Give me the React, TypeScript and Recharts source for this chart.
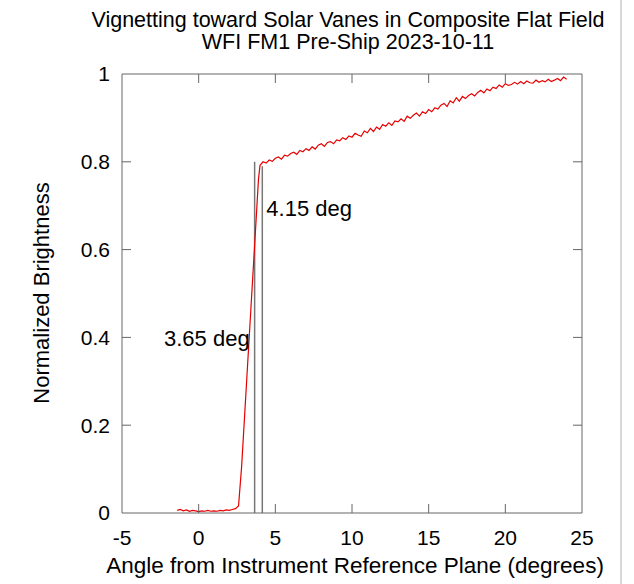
import React from 'react'
import { LineChart, Line, XAxis, YAxis, ReferenceDot } from 'recharts'

// flat region before the vanes
const flatAngles = [-1.4, -1.2, -1.0, -0.8, -0.6, -0.4, -0.2, 0, 0.2, 0.4, 0.6, 0.8, 1.0, 1.2, 1.4, 1.6, 1.8, 2.0, 2.2, 2.4, 2.6]
const flatValues = [0.006, 0.008, 0.005, 0.007, 0.004, 0.006, 0.005, 0.003, 0.005, 0.004, 0.006, 0.004, 0.005, 0.004, 0.006, 0.005, 0.007, 0.006, 0.008, 0.01, 0.016]

// steep edge
const rampAngles = [2.8, 3.0, 3.2, 3.4, 3.6, 3.8, 3.9]
const rampValues = [0.105, 0.224, 0.343, 0.462, 0.58, 0.7, 0.76]

// slow rise after the edge
const plateauAngles = [
  4.0, 4.2, 4.4, 4.6, 4.8, 5.0, 5.2, 5.4, 5.6, 5.8, 6.0, 6.2, 6.4, 6.6, 6.8, 7.0, 7.2, 7.4, 7.6, 7.8,
  8.0, 8.2, 8.4, 8.6, 8.8, 9.0, 9.2, 9.4, 9.6, 9.8, 10.0, 10.2, 10.4, 10.6, 10.8, 11.0, 11.2, 11.4, 11.6, 11.8,
  12.0, 12.2, 12.4, 12.6, 12.8, 13.0, 13.2, 13.4, 13.6, 13.8, 14.0, 14.2, 14.4, 14.6, 14.8, 15.0, 15.2, 15.4, 15.6, 15.8,
  16.0, 16.2, 16.4, 16.6, 16.8, 17.0, 17.2, 17.4, 17.6, 17.8, 18.0, 18.2, 18.4, 18.6, 18.8, 19.0, 19.2, 19.4, 19.6, 19.8,
  20.0, 20.2, 20.4, 20.6, 20.8, 21.0, 21.2, 21.4, 21.6, 21.8, 22.0, 22.2, 22.4, 22.6, 22.8, 23.0, 23.2, 23.4, 23.6, 23.8, 24.0,
]
const plateauValues = [
  0.792, 0.8, 0.797, 0.804, 0.801, 0.808, 0.811, 0.806, 0.815, 0.813, 0.819, 0.822, 0.817, 0.826, 0.823, 0.83, 0.826, 0.834, 0.829, 0.838,
  0.841, 0.835, 0.844, 0.846, 0.841, 0.85, 0.848, 0.855, 0.851, 0.859, 0.856, 0.865, 0.861, 0.858, 0.87, 0.866, 0.876, 0.869, 0.879, 0.874,
  0.885, 0.881, 0.889, 0.883, 0.893, 0.891, 0.898, 0.892, 0.904, 0.899, 0.906, 0.911, 0.904, 0.914, 0.91, 0.919, 0.914, 0.923, 0.92, 0.929,
  0.933, 0.926, 0.939, 0.934, 0.946, 0.938, 0.949, 0.944, 0.951, 0.955, 0.95, 0.958, 0.963, 0.957, 0.966, 0.962, 0.97, 0.967, 0.975, 0.97,
  0.978, 0.974, 0.976, 0.981, 0.977, 0.983, 0.978, 0.984, 0.98, 0.979, 0.986, 0.981, 0.985, 0.982, 0.988, 0.983, 0.986, 0.99, 0.985, 0.993, 0.988,
]

// vane markers: angle, top of the marker line
const markerAngles = [3.65, 4.15]
const markerTops = [0.8, 0.79]
const markerLabels = ['3.65 deg', '4.15 deg']
const markerLabelY = [0.398, 0.695]

const xTicks = [-5, 0, 5, 10, 15, 20, 25]
const yTicks = [0, 0.2, 0.4, 0.6, 0.8, 1]

const curve = [
  ...flatAngles.map((a, i) => ({ x: a, y: flatValues[i] })),
  ...rampAngles.map((a, i) => ({ x: a, y: rampValues[i] })),
  ...plateauAngles.map((a, i) => ({ x: a, y: plateauValues[i] })),
]
const markers = markerAngles.map((a, i) => [
  { x: a, y: 0 },
  { x: a, y: markerTops[i] },
])

const font = '"Liberation Sans", Arial, sans-serif'
const axisColor = '#666'
const PLOT_W = 460
const PLOT_H = 439
const TICK_LEN = 9
const X_MARGIN = 17
const Y_MARGIN = 12

// bottom tick label + inward ticks on bottom and top edges (gnuplot mirror style)
function XTick(props: any) {
  const { x, y, payload, index, visibleTicksCount } = props
  const axisY = y - X_MARGIN
  const inner = index > 0 && index < visibleTicksCount - 1
  return (
    <g>
      {inner && <line x1={x} x2={x} y1={axisY} y2={axisY - TICK_LEN} stroke={axisColor} />}
      {inner && <line x1={x} x2={x} y1={axisY - PLOT_H} y2={axisY - PLOT_H + TICK_LEN} stroke={axisColor} />}
      <text x={x} y={y} dy="0.71em" textAnchor="middle" fontSize={21} fontFamily={font} fill="#000">
        {payload.value}
      </text>
    </g>
  )
}

// left tick label + inward ticks on left and right edges
function YTick(props: any) {
  const { x, y, payload, index, visibleTicksCount } = props
  const axisX = x + Y_MARGIN
  const inner = index > 0 && index < visibleTicksCount - 1
  return (
    <g>
      {inner && <line x1={axisX} x2={axisX + TICK_LEN} y1={y} y2={y} stroke={axisColor} />}
      {inner && <line x1={axisX + PLOT_W - TICK_LEN} x2={axisX + PLOT_W} y1={y} y2={y} stroke={axisColor} />}
      <text x={x} y={y} dy="0.355em" textAnchor="end" fontSize={21} fontFamily={font} fill="#000">
        {payload.value}
      </text>
    </g>
  )
}

export default function App() {
  return (
    <div style={{ position: 'absolute', left: 0, top: 0, width: 634, height: 584, background: '#fff', fontFamily: font }}>
      <div style={{ position: 'absolute', left: 48, width: 600, top: 9, textAlign: 'center', fontSize: 21.5, lineHeight: '22px', color: '#000' }}>
        Vignetting toward Solar Vanes in Composite Flat Field
        <br />
        WFI FM1 Pre-Ship 2023-10-11
      </div>
      <div
        style={{
          position: 'absolute',
          left: 42 - 150,
          top: 293 - 13,
          width: 300,
          height: 26,
          lineHeight: '26px',
          textAlign: 'center',
          fontSize: 22,
          transform: 'rotate(-90deg)',
          color: '#000',
        }}
      >
        Normalized Brightness
      </div>
      <div style={{ position: 'absolute', left: 55, width: 600, top: 553, textAlign: 'center', fontSize: 22.5, lineHeight: '26px', color: '#000' }}>
        Angle from Instrument Reference Plane (degrees)
      </div>
      <div style={{ position: 'absolute', left: 620, top: 0, width: 2, height: 584, background: '#d8d8d8' }} />
      <LineChart width={634} height={584} margin={{ top: 74, right: 52, bottom: 31, left: 0 }}>
        <XAxis
          xAxisId="x"
          dataKey="x"
          type="number"
          domain={[-5, 25]}
          ticks={xTicks}
          interval={0}
          allowDataOverflow
          tick={<XTick />}
          tickLine={false}
          tickSize={0}
          tickMargin={X_MARGIN}
          height={40}
          axisLine={{ stroke: axisColor }}
        />
        <XAxis
          xAxisId="top"
          orientation="top"
          type="number"
          domain={[-5, 25]}
          allowDataOverflow
          mirror
          tick={false}
          tickLine={false}
          axisLine={{ stroke: axisColor }}
        />
        <YAxis
          yAxisId="y"
          dataKey="y"
          type="number"
          domain={[0, 1]}
          ticks={yTicks}
          interval={0}
          allowDataOverflow
          tick={<YTick />}
          tickLine={false}
          tickSize={0}
          tickMargin={Y_MARGIN}
          width={122}
          axisLine={{ stroke: axisColor }}
        />
        <YAxis
          yAxisId="right"
          orientation="right"
          type="number"
          domain={[0, 1]}
          allowDataOverflow
          mirror
          tick={false}
          tickLine={false}
          axisLine={{ stroke: axisColor }}
        />
        {markers.map((m, i) => (
          <Line
            key={`m${i}`}
            xAxisId="x"
            yAxisId="y"
            data={m}
            dataKey="y"
            stroke="#777"
            strokeWidth={1.5}
            dot={false}
            isAnimationActive={false}
          />
        ))}
        <Line
          xAxisId="x"
          yAxisId="y"
          data={curve}
          dataKey="y"
          stroke="#e60000"
          strokeWidth={1.2}
          dot={false}
          isAnimationActive={false}
        />
        {markerAngles.map((a, i) => (
          <ReferenceDot
            key={`l${i}`}
            xAxisId="x"
            yAxisId="y"
            x={a}
            y={markerLabelY[i]}
            r={0}
            fill="none"
            stroke="none"
            label={{
              value: markerLabels[i],
              position: i === 0 ? 'left' : 'right',
              offset: i === 0 ? 5 : 4,
              fontSize: 22,
              fill: '#000',
              fontFamily: font,
            }}
          />
        ))}
      </LineChart>
    </div>
  )
}
